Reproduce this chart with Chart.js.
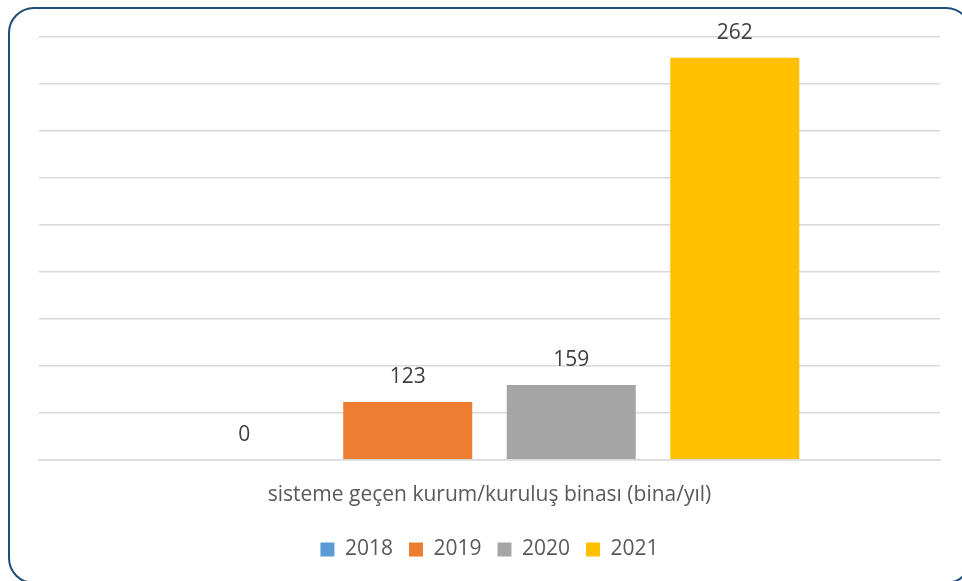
<!DOCTYPE html>
<html>
<head>
<meta charset="utf-8">
<script src="https://cdn.jsdelivr.net/npm/chart.js@4.4.1/dist/chart.umd.min.js"></script>
<style>
  html, body { margin: 0; padding: 0; background: #ffffff; }
  #wrap { position: relative; width: 962px; height: 581px; overflow: hidden; background: #fff; }
  #frame { position: absolute; left: 8px; top: 7px; width: 964px; height: 577px; border: 2.5px solid #1F4E79; border-radius: 26px; box-sizing: border-box; pointer-events: none; }
  canvas { position: absolute; left: 0; top: 0; }
</style>
</head>
<body>
<div id="wrap">
  <canvas id="c" width="962" height="581"></canvas>
  <div id="frame"></div>
</div>
<script>
// Category (shown under the axis)
const categories = ['sisteme geçen kurum/kuruluş binası (bina/yıl)'];
// Series names (legend)
const seriesNames = ['2018', '2019', '2020', '2021'];
// Bar heights as drawn in the picture (axis 0–900)
const barValues = [0, 123, 159, 856];
// Data label texts as printed in the picture
const labelTexts = ['0', '123', '159', '262'];
// Axis ticks (hidden labels, gridlines only)
const yMin = 0, yMax = 900, yStep = 100;

const colors = ['#5B9BD5', '#ED7D31', '#A5A5A5', '#FFC000'];
const FONT = "'Open Sans', 'Noto Sans', sans-serif";

const labelPlugin = {
  id: 'barLabels',
  afterDatasetsDraw(chart) {
    const ctx = chart.ctx;
    ctx.save();
    ctx.font = '21px ' + FONT;
    ctx.fillStyle = '#404040';
    ctx.textAlign = 'center';
    ctx.textBaseline = 'middle';
    chart.data.datasets.forEach((ds, i) => {
      const meta = chart.getDatasetMeta(i);
      meta.data.forEach((bar) => {
        ctx.fillText(labelTexts[i], bar.x, bar.y - 25);
      });
    });
    ctx.restore();
  }
};

new Chart(document.getElementById('c'), {
  type: 'bar',
  data: {
    labels: categories,
    datasets: seriesNames.map((name, i) => ({
      label: name,
      data: [barValues[i]],
      backgroundColor: colors[i],
      borderWidth: 0,
      categoryPercentage: 0.726,
      barPercentage: 0.789
    }))
  },
  options: {
    responsive: false,
    animation: false,
    devicePixelRatio: 1,
    layout: { padding: { left: 39, right: 22, top: 37, bottom: 11 } },
    plugins: {
      legend: {
        position: 'bottom',
        labels: {
          boxWidth: 14, boxHeight: 14, padding: 16,
          color: '#595959',
          font: { family: FONT, size: 21 }
        }
      },
      tooltip: { enabled: false }
    },
    scales: {
      x: {
        grid: { display: false },
        border: { display: true, color: '#D9D9D9', width: 1.5 },
        ticks: { color: '#595959', padding: 15, font: { family: FONT, size: 21 } }
      },
      y: {
        min: yMin, max: yMax,
        ticks: { display: false, stepSize: yStep },
        grid: { color: '#D9D9D9', lineWidth: 1.5, drawTicks: false },
        border: { display: false }
      }
    }
  },
  plugins: [labelPlugin]
});
</script>
</body>
</html>
